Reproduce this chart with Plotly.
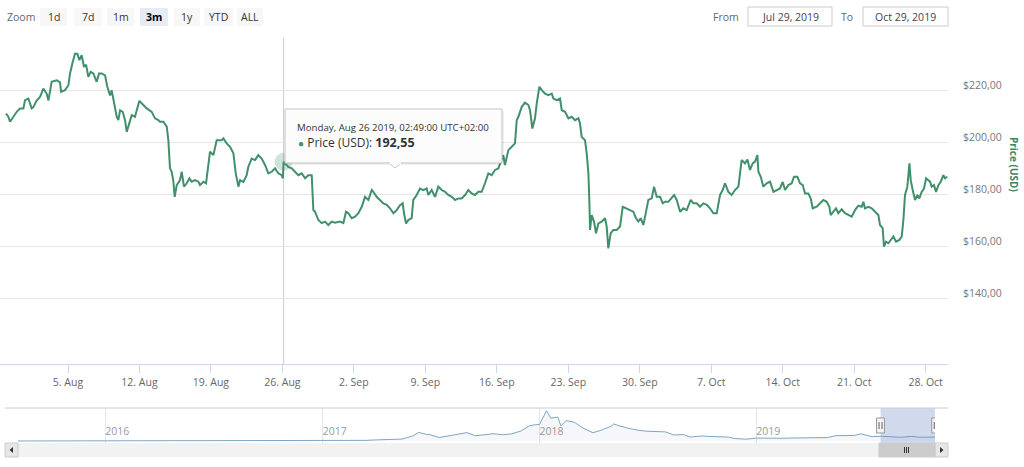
import pandas as pd
import plotly.graph_objects as go

W, H = 1024, 467

# ---------------- data ----------------
START = pd.Timestamp("2019-07-29")

day_offsets = [
    0.93, 1.16, 1.32, 1.65, 1.98, 2.30, 2.63, 2.79, 3.12, 3.44, 3.61, 3.93, 4.26, 4.59, 4.91, 5.08,
    5.24, 5.40, 5.89, 6.22, 6.32, 6.71, 7.04, 7.20, 7.46, 7.69, 7.92, 8.11, 8.34, 8.57, 8.77, 8.99,
    9.22, 9.48, 9.81, 10.04, 10.30, 10.63, 10.85, 11.12, 11.28, 11.44, 11.61, 11.77, 11.93, 12.10,
    12.36, 12.59, 12.75, 12.91, 13.24, 13.56, 13.79, 13.99, 14.38, 14.71, 15.20, 15.52, 15.85, 16.01,
    16.34, 16.67, 16.83, 16.99, 17.16, 17.32, 17.45, 17.65, 17.97, 18.14, 18.36, 18.63, 18.89, 19.12,
    19.44, 19.77, 19.93, 20.26, 20.52, 20.75, 20.91, 21.24, 21.56, 22.05, 22.22, 22.54, 22.87, 23.20,
    23.43, 23.69, 23.85, 24.18, 24.50, 24.66, 24.99, 25.32, 25.64, 25.97, 26.30, 26.62, 26.95, 27.28,
    27.60, 27.93, 28.05, 28.117, 28.58, 28.91, 29.24, 29.56, 29.89, 30.22, 30.54, 30.87, 31.03, 31.19,
    31.52, 31.85, 32.17, 32.50, 32.83, 33.15, 33.64, 33.97, 34.23, 34.46, 34.79, 35.11, 35.44, 35.77,
    36.09, 36.42, 36.75, 36.91, 37.23, 37.56, 37.89, 38.21, 38.54, 38.87, 39.19, 39.52, 39.78, 39.91,
    40.11, 40.33, 40.66, 40.82, 41.15, 41.48, 41.80, 42.13, 42.29, 42.62, 42.95, 43.27, 43.60, 43.93,
    44.25, 44.58, 44.91, 45.23, 45.56, 45.89, 46.21, 46.54, 46.86, 47.19, 47.52, 47.84, 48.17, 48.50,
    48.82, 49.15, 49.48, 49.64, 49.80, 50.13, 50.46, 50.78, 50.95, 51.11, 51.44, 51.76, 52.09, 52.25,
    52.48, 52.74, 52.91, 53.17, 53.40, 53.72, 54.05, 54.38, 54.54, 54.87, 55.19, 55.36, 55.68, 56.01,
    56.33, 56.66, 56.99, 57.15, 57.31, 57.64, 57.80, 57.97, 58.06, 58.13, 58.29, 58.52, 58.72, 58.95,
    59.27, 59.60, 59.76, 59.92, 60.15, 60.41, 60.74, 61.07, 61.33, 61.72, 62.05, 62.37, 62.63, 62.86,
    63.09, 63.35, 63.52, 63.84, 64.17, 64.40, 64.66, 64.99, 65.25, 65.48, 65.80, 66.13, 66.36, 66.62,
    66.95, 67.27, 67.60, 67.99, 68.25, 68.58, 68.90, 69.23, 69.56, 69.88, 70.21, 70.54, 70.86, 71.12,
    71.35, 71.68, 72.00, 72.33, 72.66, 72.98, 73.31, 73.54, 73.80, 74.06, 74.29, 74.52, 74.62, 74.85,
    75.11, 75.43, 75.76, 76.09, 76.41, 76.74, 77.00, 77.23, 77.55, 77.88, 78.11, 78.44, 78.70, 78.96,
    79.19, 79.51, 79.74, 79.94, 80.33, 80.66, 80.98, 81.31, 81.57, 81.70, 81.96, 82.22, 82.45, 82.78,
    83.10, 83.43, 83.76, 84.08, 84.41, 84.74, 84.90, 85.06, 85.39, 85.72, 86.04, 86.37, 86.53, 86.79,
    86.92, 87.12, 87.35, 87.58, 87.84, 88.10, 88.43, 88.66, 88.82, 88.98, 89.21, 89.41, 89.54, 89.73,
    89.96, 90.19, 90.38, 90.61, 90.84, 91.04, 91.27, 91.43, 91.59, 91.82, 92.02, 92.25, 92.48, 92.74,
    92.90, 93.13,
]

prices = [
    211.0, 209.8, 207.9, 209.8, 211.7, 213.0, 213.0, 216.2, 216.8, 213.0, 213.5, 216.0, 217.4, 220.6, 218.7, 216.0,
    220.0, 223.2, 223.8, 223.0, 219.4, 220.0, 221.9, 226.4, 230.8, 234.0, 234.0, 231.5, 233.4, 228.9, 229.8, 225.1,
    227.0, 226.4, 223.2, 226.4, 226.4, 225.7, 221.3, 218.0, 219.9, 216.2, 213.6, 209.8, 208.5, 212.3,
    211.7, 208.5, 204.0, 206.0, 210.4, 209.8, 213.6, 215.9, 214.3, 213.0, 211.7, 209.2, 208.5, 207.9,
    207.9, 206.0, 200.8, 190.0, 188.7, 185.0, 179.1, 183.6, 185.5, 188.7, 183.0, 184.3, 186.2, 184.9,
    185.5, 184.9, 183.6, 184.9, 184.3, 191.9, 196.4, 195.1, 200.8, 200.8, 201.5, 199.6, 198.3, 195.8,
    188.1, 183.0, 185.5, 184.8, 187.4, 190.6, 193.8, 193.2, 195.1, 193.8, 191.3, 188.1, 188.7, 190.0,
    188.1, 187.4, 186.2, 192.55, 190.6, 190.0, 188.7, 187.4, 188.1, 186.2, 187.4, 187.4, 174.0, 173.4,
    170.2, 169.0, 169.6, 168.3, 169.6, 169.2, 169.6, 169.0, 173.4, 172.8, 170.9, 171.5, 172.8, 175.3,
    179.1, 177.9, 181.7, 181.0, 179.1, 177.9, 176.6, 176.0, 174.7, 172.8, 174.0, 175.9, 176.6, 172.8,
    168.9, 170.2, 170.9, 177.9, 179.8, 182.3, 181.7, 182.3, 179.8, 181.7, 179.1, 183.0, 181.7, 181.0,
    179.8, 179.1, 177.9, 178.5, 178.5, 179.8, 181.7, 180.4, 179.8, 181.0, 181.0, 184.3, 188.1, 187.4,
    189.4, 190.0, 193.2, 195.1, 191.3, 197.0, 198.3, 199.6, 208.5, 209.8, 213.6, 215.2, 214.3, 212.3,
    205.3, 209.2, 214.9, 221.3, 220.0, 218.7, 218.1, 218.7, 216.8, 216.2, 216.8, 212.3, 211.7, 209.2,
    209.8, 208.5, 209.2, 207.2, 202.1, 200.8, 195.8, 188.1, 178.0, 166.4, 172.1, 169.6, 165.1, 168.9,
    169.6, 170.9, 167.7, 159.3, 165.1, 166.4, 166.4, 167.7, 175.3, 174.7, 174.0, 173.4, 170.9, 169.6,
    170.9, 168.3, 171.5, 177.9, 178.5, 183.0, 179.1, 179.1, 176.6, 177.2, 177.2, 178.5, 179.8, 177.9,
    173.4, 174.7, 174.0, 177.9, 176.6, 176.6, 175.3, 176.6, 176.0, 174.7, 172.8, 172.8, 179.8, 181.7,
    184.3, 181.0, 179.8, 181.7, 183.0, 193.2, 191.9, 193.4, 189.4, 191.9, 192.6, 195.1, 188.7, 186.8,
    183.0, 184.3, 184.9, 181.0, 181.7, 182.3, 184.8, 181.7, 183.6, 184.3, 186.8, 186.8, 184.3, 183.6,
    180.4, 180.4, 178.5, 174.7, 175.3, 176.6, 177.9, 177.2, 175.3, 172.1, 173.4, 174.7, 172.8, 174.3,
    172.8, 172.1, 171.5, 174.0, 175.7, 175.3, 177.2, 174.7, 175.3, 174.7, 173.4, 172.1, 168.3, 167.1,
    160.0, 161.9, 161.3, 162.6, 163.9, 161.9, 162.6, 163.9, 170.2, 179.8, 183.0, 191.9, 185.5, 181.7,
    177.9, 179.8, 178.5, 181.0, 182.3, 186.2, 185.5, 184.9, 183.0, 183.6, 181.0, 183.6, 184.9, 187.4,
    186.2, 186.8,
]

tooltip_time = pd.Timestamp("2019-08-26 02:49:00")
tooltip_price = 192.55
series_name = "Price (USD)"

nav_dates = [
    "2015-08-07", "2015-09-01", "2015-10-01", "2015-11-01", "2015-12-01", "2016-01-01", "2016-02-01",
    "2016-03-01", "2016-03-15", "2016-04-01", "2016-05-01", "2016-06-01", "2016-06-17", "2016-07-01",
    "2016-08-01", "2016-09-01", "2016-10-01", "2016-11-01", "2016-12-01", "2017-01-01", "2017-02-01",
    "2017-03-01", "2017-03-15", "2017-04-01", "2017-05-01", "2017-05-15", "2017-06-01", "2017-06-12",
    "2017-06-25", "2017-07-01", "2017-07-16", "2017-08-01", "2017-08-15", "2017-09-01", "2017-09-15",
    "2017-10-01", "2017-10-15", "2017-11-01", "2017-11-15", "2017-12-01", "2017-12-15", "2017-12-25",
    "2018-01-01", "2018-01-13", "2018-01-20", "2018-02-01", "2018-02-06", "2018-02-15", "2018-03-01",
    "2018-03-15", "2018-04-01", "2018-04-15", "2018-05-01", "2018-05-06", "2018-05-15", "2018-06-01",
    "2018-06-15", "2018-07-01", "2018-07-15", "2018-08-01", "2018-08-15", "2018-09-01", "2018-09-12",
    "2018-10-01", "2018-10-15", "2018-11-01", "2018-11-15", "2018-11-25", "2018-12-15", "2019-01-01",
    "2019-01-15", "2019-02-01", "2019-02-15", "2019-03-01", "2019-03-15", "2019-04-01", "2019-04-15",
    "2019-05-01", "2019-05-15", "2019-06-01", "2019-06-15", "2019-06-26", "2019-07-01", "2019-07-15",
    "2019-08-01", "2019-08-15", "2019-09-01", "2019-09-20", "2019-10-01", "2019-10-15", "2019-10-29",
]
nav_prices = [
    1, 1.3, 0.7, 1, 0.9, 1, 2.3,
    7.5, 12, 11.5, 9, 14, 13, 12,
    11, 12, 13, 11, 8, 8, 10.7,
    17, 30, 50, 78, 90, 230, 395,
    300, 290, 160, 225, 300, 385, 240,
    300, 335, 290, 330, 460, 700, 750,
    760, 1396, 1050, 1100, 700, 940, 860,
    600, 380, 500, 670, 790, 700, 580,
    500, 450, 450, 420, 280, 295, 180,
    230, 210, 200, 180, 115, 85, 135,
    125, 107, 125, 135, 136, 141, 165,
    160, 245, 265, 255, 330, 290, 200,
    218, 185, 172, 215, 175, 175, 185,
]

y_tick_vals = [140, 160, 180, 200, 220, 240]
y_tick_text = ["$140,00", "$160,00", "$180,00", "$200,00", "$220,00", ""]

zoom_label = "Zoom"
zoom_buttons = ["1d", "7d", "1m", "3m", "1y", "YTD", "ALL"]
active_button = "3m"
from_label, from_value = "From", "Jul 29, 2019"
to_label, to_value = "To", "Oct 29, 2019"

# ---------------- styling ----------------
FONT = "Open Sans"
GREEN = "#40906b"
GREEN_TITLE = "#3b8765"
GRID = "#e6e6e6"
AXIS = "#ccd6eb"

main_x = [START + pd.Timedelta(days=d) for d in day_offsets]
view_start = START + pd.Timedelta(days=0.34)
view_end = START + pd.Timedelta(days=93.19)


def px(x):
    return x / W


def py(y):
    return 1 - y / H


def prect(x0, y0, x1, y1, fill, line=None, lw=1):
    return dict(type="rect", xref="paper", yref="paper", x0=px(x0), x1=px(x1),
                y0=py(y1), y1=py(y0), fillcolor=fill,
                line=dict(color=line or "rgba(0,0,0,0)", width=lw if line else 0), layer="above")


def pline(x0, y0, x1, y1, color, w=1):
    return dict(type="line", xref="paper", yref="paper", x0=px(x0), x1=px(x1),
                y0=py(y0), y1=py(y1), line=dict(color=color, width=w), layer="above")


def ppath(points, fill, line, closed=True):
    d = "M " + " L ".join(f"{px(x):.5f},{py(y):.5f}" for x, y in points)
    if closed:
        d += " Z"
    return dict(type="path", xref="paper", yref="paper", path=d, fillcolor=fill,
                line=dict(color=line, width=1 if line != "rgba(0,0,0,0)" else 0), layer="above")


def text(x, y, s, size=11, color="#666", xanchor="left", **kw):
    return dict(x=px(x), y=py(y), xref="paper", yref="paper", text=s, showarrow=False,
                xanchor=xanchor, yanchor="middle", font=dict(family=FONT, size=size, color=color), **kw)


fig = go.Figure()

fig.add_trace(go.Scatter(
    x=main_x, y=prices, mode="lines", line=dict(color=GREEN, width=2),
    xaxis="x", yaxis="y", hoverinfo="skip", name=series_name))

# hover halo
fig.add_trace(go.Scatter(
    x=[tooltip_time], y=[tooltip_price], mode="markers",
    marker=dict(size=18, color="rgba(64,144,107,0.25)", line=dict(width=0)),
    xaxis="x", yaxis="y", hoverinfo="skip"))

# navigator series
fig.add_trace(go.Scatter(
    x=pd.to_datetime(nav_dates), y=nav_prices, mode="lines", fill="tozeroy",
    fillcolor="rgba(51,92,173,0.05)", line=dict(color="#7fa6c2", width=1),
    xaxis="x2", yaxis="y2", hoverinfo="skip"))

shapes = []
annotations = []

# crosshair
shapes.append(dict(type="line", xref="x", yref="y domain", x0=tooltip_time, x1=tooltip_time,
                   y0=0, y1=1, line=dict(color="#cccccc", width=1), layer="below"))

# navigator mask + outline + handles
shapes.append(dict(type="rect", xref="x2", yref="y2 domain", x0=view_start, x1=view_end,
                   y0=0, y1=1, fillcolor="rgba(102,133,194,0.3)", line=dict(width=0), layer="above"))
shapes.append(pline(5, 408, 948, 408, "#cccccc"))
for hx in (view_start, view_end):
    shapes.append(dict(type="rect", xref="x2", yref="paper", xsizemode="pixel", xanchor=hx,
                       x0=-4, x1=4, y0=py(433), y1=py(418), fillcolor="#f2f2f2",
                       line=dict(color="#999999", width=1), layer="above"))
    for off in (-1.5, 1.5):
        shapes.append(dict(type="line", xref="x2", yref="paper", xsizemode="pixel", xanchor=hx,
                           x0=off, x1=off, y0=py(429), y1=py(422),
                           line=dict(color="#666666", width=1), layer="above"))

# scrollbar
shapes.append(prect(5, 443, 948, 457, "#f2f2f2"))
shapes.append(prect(5, 443, 18, 457, "#e6e6e6", "#cccccc"))
shapes.append(prect(935, 443, 948, 457, "#e6e6e6", "#cccccc"))
shapes.append(ppath([(13, 447), (9.5, 450), (13, 453)], "#333333", "rgba(0,0,0,0)"))
shapes.append(ppath([(940, 447), (943.5, 450), (940, 453)], "#333333", "rgba(0,0,0,0)"))
shapes.append(prect(879, 443, 935, 457, "#cccccc", "#cccccc"))
for gx in (904.5, 906.5, 908.5):
    shapes.append(pline(gx, 447, gx, 453, "#333333"))

# range selector
btn_pos = [(40, 67), (74, 102), (107, 134), (140, 168), (174, 200), (204, 233), (237, 263)]
annotations.append(text(5, 17, zoom_label, size=10.5, color="#666"))
for (x0, x1), lab in zip(btn_pos, zoom_buttons):
    active = lab == active_button
    shapes.append(prect(x0, 8, x1, 26, "#e6ebf5" if active else "#f7f7f7"))
    annotations.append(text((x0 + x1) / 2, 17, f"<b>{lab}</b>" if active else lab, size=10.5,
                            color="#000" if active else "#333", xanchor="center"))

# date inputs
annotations.append(text(741, 17, from_label, size=10.5, color="#666", xanchor="right"))
shapes.append(prect(748, 7, 832, 26, "white", "#cccccc"))
annotations.append(text(790, 16.5, from_value, size=10.5, color="#444", xanchor="center"))
annotations.append(text(855, 17, to_label, size=10.5, color="#666", xanchor="right"))
shapes.append(prect(863, 7, 948, 26, "white", "#cccccc"))
annotations.append(text(905.5, 16.5, to_value, size=10.5, color="#444", xanchor="center"))

# axis title
annotations.append(dict(x=px(1014), y=py(164), xref="paper", yref="paper", text=f"<b>{series_name}</b>",
                        showarrow=False, textangle=90, xanchor="center", yanchor="middle",
                        font=dict(family=FONT, size=10, color=GREEN_TITLE)))

# navigator year labels are drawn by the axis; tooltip
shapes.append(prect(287, 111, 504, 165, "rgba(0,0,0,0.06)"))
shapes.append(prect(285, 109, 502, 163, "rgba(252,252,252,0.97)", "#c4c4c4"))
shapes.append(ppath([(388, 162.2), (395, 168), (402, 162.2)], "rgba(252,252,252,1)", "#c4c4c4", closed=False))
shapes.append(pline(389, 163, 401, 163, "rgba(252,252,252,1)", 1.5))
tt_date = tooltip_time.strftime("%A, %b %d %Y, %H:%M:%S") + " UTC+02:00"
tt_value = f"{tooltip_price:.2f}".replace(".", ",")
annotations.append(text(295, 127, tt_date, size=9.7, color="#333"))
annotations.append(text(296, 142,
                        f"<span style='color:{GREEN};font-size:10px'>●</span> {series_name}: "
                        f"<b><span style='font-size:12.5px'>{tt_value}</span></b>",
                        size=12, color="#333"))

fig.update_layout(
    template="none",
    width=W, height=H,
    margin=dict(l=0, r=0, t=0, b=0),
    paper_bgcolor="white", plot_bgcolor="white",
    showlegend=False, hovermode=False,
    font=dict(family=FONT, size=11, color="#666"),
    separators=",.",
    xaxis=dict(domain=[0, 948 / W], anchor="y", type="date",
               range=[view_start, view_end],
               tick0="2019-08-05", dtick=7 * 86400000, tickformat="%-d. %b",
               ticks="outside", ticklen=8, tickcolor=AXIS, tickwidth=1,
               showline=True, linecolor=AXIS, linewidth=1,
               showgrid=False, zeroline=False, automargin=False,
               tickfont=dict(family=FONT, size=10.5, color="#666")),
    yaxis=dict(domain=[py(364), py(38)], anchor="x", side="right",
               range=[115, 240], tickmode="array", tickvals=y_tick_vals, ticktext=y_tick_text,
               showgrid=True, gridcolor=GRID, gridwidth=1, zeroline=False, showline=False,
               ticks="", ticklabelstandoff=14, ticklabelshift=-5, automargin=False,
               tickfont=dict(family=FONT, size=10.5, color="#777")),
    xaxis2=dict(domain=[px(18), px(935)], anchor="y2", type="date",
                range=[pd.Timestamp(nav_dates[0]), pd.Timestamp(nav_dates[-1])],
                tick0="2016-01-01", dtick="M12", tickformat="%Y",
                ticklabelposition="inside right", ticks="",
                showgrid=True, gridcolor=GRID, showline=False, zeroline=False, automargin=False,
                tickfont=dict(family=FONT, size=10.5, color="#999")),
    yaxis2=dict(domain=[py(443), py(408)], anchor="x2", range=[-92, 1520],
                visible=False, showgrid=False, zeroline=False),
    shapes=shapes,
    annotations=annotations,
)

fig.write_html("out.html")
